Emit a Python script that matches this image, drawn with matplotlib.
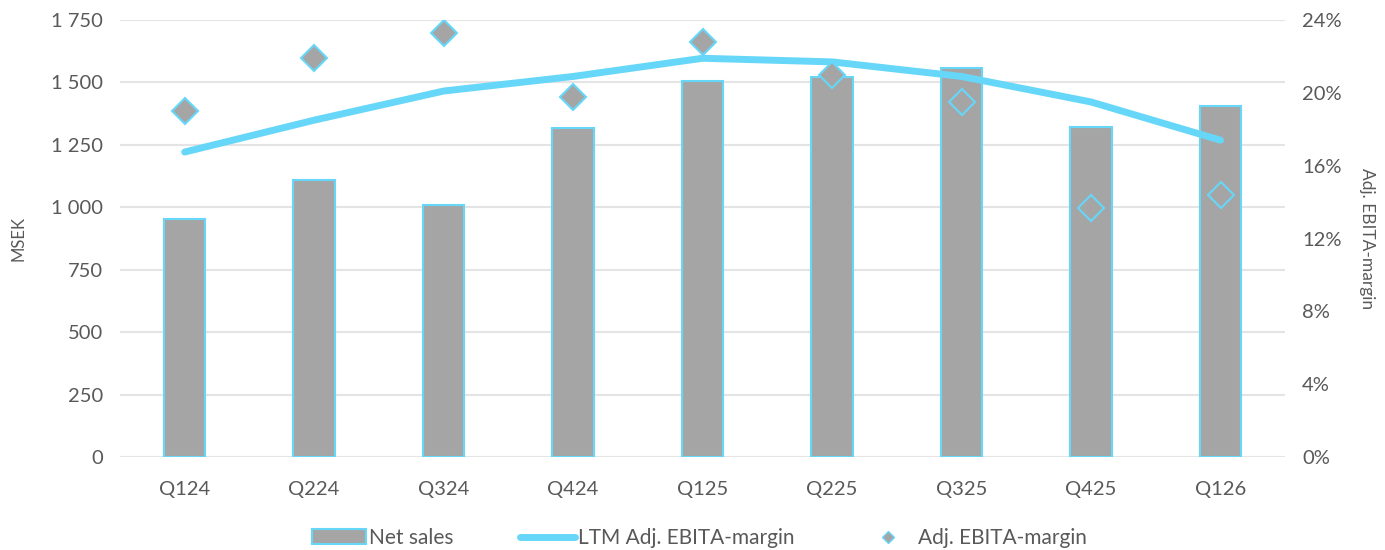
import matplotlib.pyplot as plt
import numpy as np

quarters = ["Q124", "Q224", "Q324", "Q424", "Q125", "Q225", "Q325", "Q425", "Q126"]
net_sales = [955, 1110, 1010, 1317, 1506, 1522, 1556, 1321, 1405]
ltm_margin = [16.75, 18.5, 20.1, 20.9, 21.9, 21.7, 20.9, 19.5, 17.4]
adj_margin = [19.0, 21.9, 23.3, 19.8, 22.8, 21.0, 19.5, 13.7, 14.4]

gray = "#A5A5A5"
cyan = "#66D7F8"
text_col = "#595959"

plt.rcParams['font.family'] = ['Lato', 'DejaVu Sans']

fig = plt.figure(figsize=(13.85, 5.5), dpi=100)
ax = fig.add_axes([0.0866, 0.169, 0.8414, 0.7946])
ax2 = ax.twinx()

x = np.arange(len(quarters))
bars = ax.bar(x, net_sales, width=0.32, color=gray, edgecolor=cyan, linewidth=1.5,
              label="Net sales", zorder=2)

ax.set_ylim(0, 1750)
ax.set_xlim(-0.5, len(quarters) - 0.5)
ax.set_yticks(range(0, 1751, 250))
ax.set_yticklabels([f"{v:,}".replace(",", " ") for v in range(0, 1751, 250)])
ax.set_xticks(x)
ax.set_xticklabels(quarters)
ax.yaxis.grid(True, color="#E4E4E4", linewidth=1.5, zorder=0)
ax.set_axisbelow(True)
for s in ax.spines.values():
    s.set_visible(False)
for s in ax2.spines.values():
    s.set_visible(False)
ax.tick_params(length=0, labelsize=14.5, colors=text_col, pad=12)
ax.tick_params(axis='x', pad=17)
ax.set_ylabel("MSEK", fontsize=12, color=text_col, labelpad=18)

line, = ax2.plot(x, ltm_margin, color=cyan, linewidth=5, solid_capstyle='round',
                 label="LTM Adj. EBITA-margin", zorder=3)
pts, = ax2.plot(x, adj_margin, linestyle='none', marker='D', markersize=13,
                markerfacecolor=gray, markeredgecolor=cyan, markeredgewidth=1.5,
                label="Adj. EBITA-margin", zorder=4)
ax2.set_ylim(0, 24)
ax2.set_yticks(range(0, 25, 4))
ax2.set_yticklabels([f"{v}%" for v in range(0, 25, 4)])
ax2.tick_params(length=0, labelsize=14.5, colors=text_col, pad=12)
ax2.set_ylabel("Adj. EBITA-margin", fontsize=12.5, color=text_col, rotation=-90, labelpad=24)

# title sits above the visible area, only descenders show
fig.text(0.5, 1.012, "Net sales and Adj. EBITA-margin", ha="center", va="baseline",
         fontsize=28, color="#404040")

leg_pts = plt.Line2D([], [], linestyle='none', marker='D', markersize=6,
                     markerfacecolor=gray, markeredgecolor=cyan, markeredgewidth=1)
fig.legend([bars, line, leg_pts], ["Net sales", "LTM Adj. EBITA-margin", "Adj. EBITA-margin"],
           loc="center", bbox_to_anchor=(0.505, 0.022), ncol=3, frameon=False,
           fontsize=15, labelcolor=text_col, handlelength=2.6, handletextpad=0.15,
           columnspacing=3.2)

fig.savefig("out.png", dpi=100)
